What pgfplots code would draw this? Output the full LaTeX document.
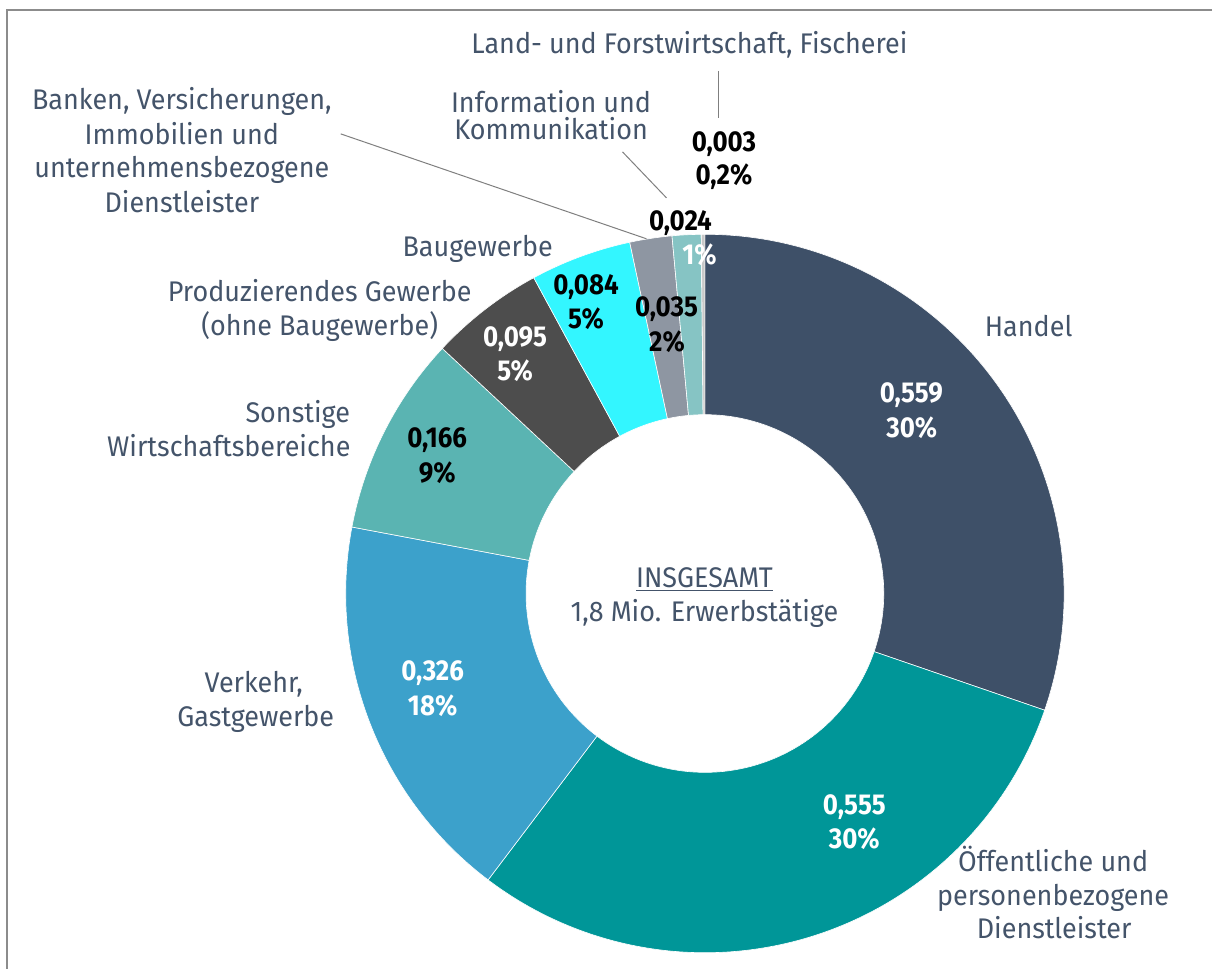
\documentclass[border=0pt]{standalone}
\usepackage{pgfplots}
\pgfplotsset{compat=1.18}
\usepackage{pgfplotstable}
\usepackage{fontspec}
\setmainfont{Fira Sans}[FakeStretch=0.95]
\newfontfamily\numfont{Fira Sans}[FakeStretch=0.9]

\definecolor{txt}{HTML}{44546A}
\definecolor{frame}{HTML}{8C8C8C}
\definecolor{lead}{HTML}{7F7F7F}
\definecolor{c0}{HTML}{3E5068}
\definecolor{c1}{HTML}{009698}
\definecolor{c2}{HTML}{3CA1CB}
\definecolor{c3}{HTML}{5AB4B2}
\definecolor{c4}{HTML}{4D4D4D}
\definecolor{c5}{HTML}{33F6FF}
\definecolor{c6}{HTML}{8E96A2}
\definecolor{c7}{HTML}{86C4C4}
\definecolor{c8}{HTML}{C8C8C8}

\pgfplotstableread{
val
0.559
0.555
0.326
0.166
0.095
0.084
0.035
0.024
0.003
}\sectors

\def\slicecolors{{"c0","c1","c2","c3","c4","c5","c6","c7","c8"}}
\def\Ro{179.75bp}
\def\Ri{89.5bp}

\gdef\total{0}
\pgfplotstableforeachcolumnelement{val}\of\sectors\as\v{%
  \pgfmathparse{\total+\v}\xdef\total{\pgfmathresult}}

\newcommand\lab[3]{\node[anchor=base, text=txt, inner sep=0pt, font=\fontsize{14.2bp}{17bp}\selectfont] at (axis cs:#1,{970-#2}) {#3};}
\newcommand\val[4]{\node[anchor=base, text=#4, inner sep=0pt, font=\fontsize{14.4bp}{17bp}\numfont\bfseries] at (axis cs:#1,{970-#2}) {#3};}

\begin{document}
\begin{tikzpicture}
\begin{axis}[hide axis, x=0.5bp, y=0.5bp, xmin=0, xmax=1213, ymin=0, ymax=970,
  scale only axis, clip=false]
\path (axis cs:0,0) rectangle (axis cs:1213,970);
\pgfplotsextra{%
  \gdef\cum{0}%
  \pgfplotstableforeachcolumnelement{val}\of\sectors\as\v{%
    \pgfmathsetmacro\aS{90-360*\cum/\total}%
    \pgfmathparse{\cum+\v}\xdef\cum{\pgfmathresult}%
    \pgfmathsetmacro\aE{90-360*\cum/\total}%
    \pgfmathparse{\slicecolors[\pgfplotstablerow]}\edef\col{\pgfmathresult}%
    \fill[fill=\col, draw=white, line width=0.3bp, shift={(axis cs:705.5,376)}]
      (\aS:\Ro) arc[start angle=\aS, end angle=\aE, radius=\Ro]
      -- (\aE:\Ri) arc[start angle=\aE, end angle=\aS, radius=\Ri] -- cycle;
  }%
}
% frame
\draw[frame, line width=1bp] (axis cs:1213,959.5) -- (axis cs:7.5,959.5) -- (axis cs:7.5,0);
% leader lines
\draw[lead, line width=0.5bp] (axis cs:719,899) -- (axis cs:719,852);
\draw[lead, line width=0.5bp] (axis cs:623,818) -- (axis cs:667,772);
\draw[lead, line width=0.5bp] (axis cs:341,836) -- (axis cs:647,731);
% category labels
\lab{690}{54}{Land- und Forstwirtschaft, Fischerei}
\lab{551.5}{113}{Information und}
\lab{551.5}{140}{Kommunikation}
\lab{182}{110}{Banken, Versicherungen,}
\lab{182}{145}{Immobilien und}
\lab{182}{178}{unternehmensbezogene}
\lab{182}{213}{Dienstleister}
\lab{478}{257}{Baugewerbe}
\lab{320}{302}{Produzierendes Gewerbe}
\lab{320}{336}{(ohne Baugewerbe)}
\lab{298}{423}{Sonstige}
\lab{229}{457}{Wirtschaftsbereiche}
\lab{254}{693}{Verkehr,}
\lab{256}{727}{Gastgewerbe}
\lab{1029.5}{337}{Handel}
\lab{1054}{872}{Öffentliche und}
\lab{1054}{906}{personenbezogene}
\lab{1055}{939}{Dienstleister}
\lab{705}{588}{\underline{INSGESAMT}}
\lab{705}{622}{1,8 Mio. Erwerbstätige}
% value labels
\val{912}{403}{0,559}{white}
\val{912.5}{438}{30\%}{white}
\val{855}{815}{0,555}{white}
\val{855}{849}{30\%}{white}
\val{433}{681}{0,326}{white}
\val{433}{716}{18\%}{white}
\val{437.5}{448}{0,166}{black}
\val{437.5}{483}{9\%}{black}
\val{515.5}{347}{0,095}{white}
\val{515.5}{381}{5\%}{white}
\val{586.5}{295}{0,084}{black}
\val{586.5}{329}{5\%}{black}
\val{667}{317}{0,035}{black}
\val{667.5}{352}{2\%}{black}
\val{681}{231}{0,024}{black}
\val{700}{265}{1\%}{white}
\val{724.5}{152}{0,003}{black}
\val{724.5}{185}{0,2\%}{black}
\end{axis}
\end{tikzpicture}
\end{document}
